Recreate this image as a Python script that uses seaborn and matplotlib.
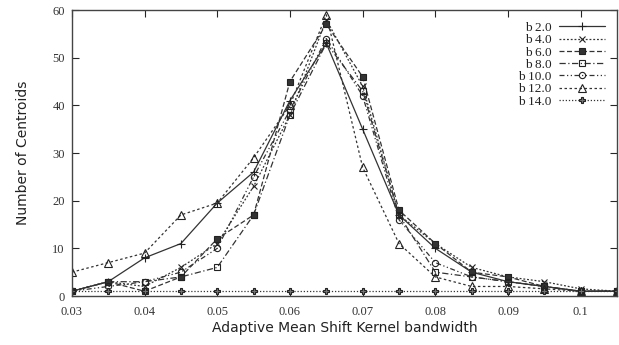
import numpy as np
import pandas as pd
import seaborn as sns
import matplotlib.pyplot as plt

# bandwidth values on the x axis
bandwidth = [0.030, 0.035, 0.040, 0.045, 0.050, 0.055, 0.060, 0.065,
             0.070, 0.075, 0.080, 0.085, 0.090, 0.095, 0.100, 0.105]

# number of centroids for each b
b2 = [1, 3, 8, 11, 19.5, 26, 41, 53, 35, 17, 10, 5, 3, 2, 1, 1]
b4 = [1, 3, 2, 6, 11, 23, 38, 58, 44, 17, 11, 6, 4, 3, 1.5, 1]
b6 = [1, 3, 1, 4, 12, 17, 45, 57, 46, 18, 11, 5, 4, 2, 1, 1]
b8 = [1, 3, 3, 4, 6, 17, 38, 53, 43, 17, 5, 4, 3, 2, 1, 1]
b10 = [1, 2, 3, 5, 10, 25, 39, 54, 42, 16, 7, 4, 3, 2, 1, 1]
b12 = [5, 7, 9, 17, 19.5, 29, 40, 59, 27, 11, 4, 2, 2, 1.5, 1, 1]
b14 = [1, 1, 1, 1, 1, 1, 1, 1, 1, 1, 1, 1, 1, 1, 1, 1]

etiquetas = ["b 2.0", "b 4.0", "b 6.0", "b 8.0", "b 10.0", "b 12.0", "b 14.0"]
series = [b2, b4, b6, b8, b10, b12, b14]

# estilo de cada linha (parecido com o gnuplot)
estilos = [
    dict(ls="-", marker="+", mfc="none", ms=6),
    dict(ls=(0, (1.5, 1.5)), marker="x", mfc="none", ms=5),
    dict(ls=(0, (4, 2)), marker="s", mfc="#333333", ms=4.5),
    dict(ls=(0, (5, 2, 1, 2)), marker="s", mfc="none", ms=5),
    dict(ls=(0, (4, 2, 1, 2, 1, 2)), marker="o", mfc="none", ms=4.5),
    dict(ls=(0, (2, 2)), marker="^", mfc="none", ms=5.5),
    dict(ls=(0, (1, 1.5)), marker="P", mfc="#777777", ms=4),
]

sns.set_style("ticks")
plt.rcParams["font.family"] = ["DejaVu Sans"]

fig, ax = plt.subplots(figsize=(6.19, 3.45), dpi=100)
fig.subplots_adjust(left=0.116, right=0.997, bottom=0.142, top=0.971)

for nome, valores, st in zip(etiquetas, series, estilos):
    df = pd.DataFrame({"x": bandwidth, "y": valores})
    sns.lineplot(data=df, x="x", y="y", ax=ax, color="#333333", lw=0.9,
                 linestyle=st["ls"], marker=st["marker"], markersize=st["ms"],
                 markerfacecolor=st["mfc"], markeredgecolor="#222222",
                 markeredgewidth=0.8, label=nome)

ax.set_xlim(0.03, 0.105)
ax.set_ylim(0, 60)
ax.set_xticks([0.03, 0.04, 0.05, 0.06, 0.07, 0.08, 0.09, 0.1])
ax.set_xticklabels(["0.03", "0.04", "0.05", "0.06", "0.07", "0.08", "0.09", "0.1"])
ax.set_yticks(range(0, 61, 10))
ax.tick_params(direction="in", top=True, right=True, length=5, width=0.8,
               labelsize=9)
ax.tick_params(axis="x", pad=7)
ax.tick_params(axis="y", pad=5)
for lab in ax.get_xticklabels() + ax.get_yticklabels():
    lab.set_fontfamily("Liberation Serif")
    lab.set_color("#333333")
for s in ax.spines.values():
    s.set_linewidth(1.0)
    s.set_color("#444444")

ax.set_xlabel("Adaptive Mean Shift Kernel bandwidth", fontsize=10,
              color="#222222", labelpad=2)
ax.set_ylabel("Number of Centroids", fontsize=10, color="#222222",
              labelpad=16)

leg = ax.legend(loc="upper right", frameon=False, markerfirst=False,
                prop={"family": "Liberation Serif", "size": 9.5},
                handlelength=3.5, labelspacing=0.0, borderaxespad=0.5,
                handletextpad=0.6)
for t in leg.get_texts():
    t.set_ha("right")
    t.set_color("#222222")

plt.savefig("out.png", dpi=100)
